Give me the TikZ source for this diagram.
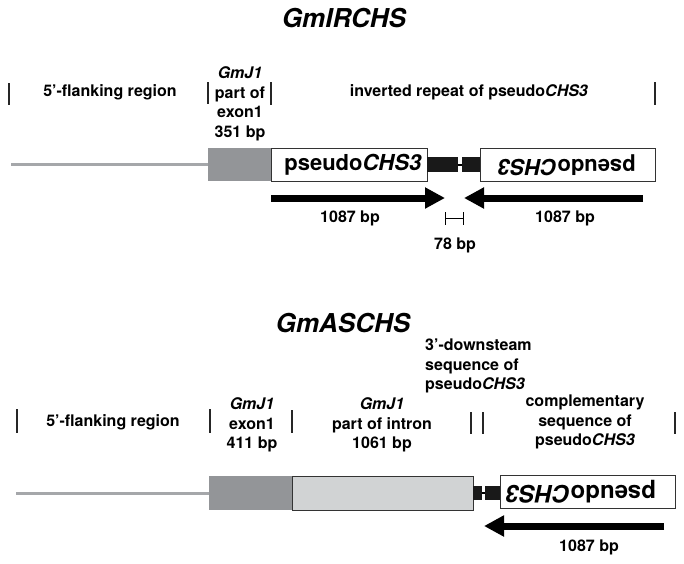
\documentclass[tikz,border=0pt]{standalone}
\usepackage{fontspec}
\setmainfont{TeX Gyre Heros}
\usetikzlibrary{arrows.meta}
\definecolor{exongrey}{RGB}{147,149,152}
\definecolor{introngrey}{RGB}{209,211,212}
\definecolor{flankgrey}{RGB}{165,167,170}
\tikzset{
  txt/.style={font=\fontsize{16}{19.5}\selectfont\bfseries, align=center, inner sep=0pt},
  ttl/.style={font=\fontsize{26}{30}\selectfont\bfseries\itshape, inner sep=0pt},
  boxtxt/.style={font=\fontsize{22}{26}\selectfont\bfseries, inner sep=0pt},
  sep/.style={line width=1.6pt, black!85},
  seqbox/.style={draw=black!80, line width=0.8pt},
  bigarrow/.style={line width=7pt, -{Triangle[length=20pt,width=20pt]}},
  linker/.style={fill=black!90, draw=none},
}
\begin{document}
\begin{tikzpicture}[x=1pt, y=-1pt]
\useasboundingbox (0,0) rectangle (684,563);

% ---- GmIRCHS ----
\node[ttl] (titleA) at (344,18) {GmIRCHS};

% region borders
\draw[sep] (9,83) -- (9,105);
\draw[sep] (208,82) -- (208,104);
\draw[sep] (271,82) -- (271,105);
\draw[sep] (655,82) -- (655,105);

% region names
\node[txt] (flankA) at (110,92) {5'-flanking region};
\node[txt] (exonAtxt) at (240,104) {\textit{GmJ1}\\part of\\exon1\\351 bp};
\node[txt] (irA) at (469,92) {inverted repeat of pseudo\textit{CHS3}};

% gene structure
\draw[flankgrey, line width=3pt] (11,164) -- (208,164);
\fill[exongrey] (208,148) rectangle (271,181);
\draw[seqbox] (271,148) rectangle (427,181);
\node[boxtxt] (pseudoL) at (353,165) {pseudo\textit{CHS3}};
\fill[linker] (427,157) rectangle (458,172);
\draw[line width=2pt] (458,165) -- (462,165);
\fill[linker] (462,157) rectangle (480,172);
\draw[seqbox] (480,148) rectangle (655,181);
\node[boxtxt, rotate=180] (pseudoR) at (567,165) {pseudo\textit{CHS3}};

% repeat arms
\coordinate (armLs) at (271,198);
\coordinate (armLe) at (445,198);
\coordinate (armRs) at (643,198);
\coordinate (armRe) at (464,198);
\draw[bigarrow] (armLs) -- (armLe);
\draw[bigarrow] (armRs) -- (armRe);
\node[txt] (lenL) at (350,218) {1087 bp};
\node[txt] (lenR) at (565,218) {1087 bp};

% spacer
\draw[line width=1pt] (445,218) -- (463,218);
\draw[line width=1pt] (445,212) -- (445,225);
\draw[line width=1pt] (463,212) -- (463,225);
\node[txt] (spacer) at (455,245) {78 bp};

% ---- GmASCHS ----
\node[ttl] (titleB) at (343,323) {GmASCHS};

% region borders
\draw[sep] (17,409) -- (17,433);
\draw[sep] (210,409) -- (210,433);
\draw[sep] (292,410) -- (292,433);
\draw[sep] (471,412) -- (471,434);
\draw[sep] (483,412) -- (483,434);
\draw[sep] (675,412) -- (675,434);

% region names
\node[txt] (flankB) at (113,422) {5'-flanking region};
\node[txt] (exonBtxt) at (252,425) {\textit{GmJ1}\\exon1\\411 bp};
\node[txt] (intronB) at (382,425) {\textit{GmJ1}\\part of intron\\1061 bp};
\node[txt, align=left, anchor=west] (downB) at (425,366) {3'-downsteam\\sequence of\\pseudo\textit{CHS3}};
\node[txt] (compB) at (585,422) {complementary\\sequence of\\pseudo\textit{CHS3}};

% gene structure
\draw[flankgrey, line width=3pt] (16,493) -- (209,493);
\fill[exongrey] (209,476) rectangle (292,510);
\draw[seqbox, fill=introngrey] (292,476) rectangle (473,510);
\fill[linker] (473,486) rectangle (482,500);
\draw[line width=2pt] (482,493) -- (485,493);
\fill[linker] (485,486) rectangle (500,500);
\draw[seqbox] (500,475) rectangle (675,508);
\node[boxtxt, font=\fontsize{24}{28}\selectfont\bfseries, rotate=180] (pseudoB) at (581,492) {pseudo\textit{CHS3}};

% complementary arm
\coordinate (armBs) at (664,526);
\coordinate (armBe) at (484,526);
\draw[bigarrow] (armBs) -- (armBe);
\node[txt] (lenB) at (589,547) {1087 bp};
\end{tikzpicture}
\end{document}
